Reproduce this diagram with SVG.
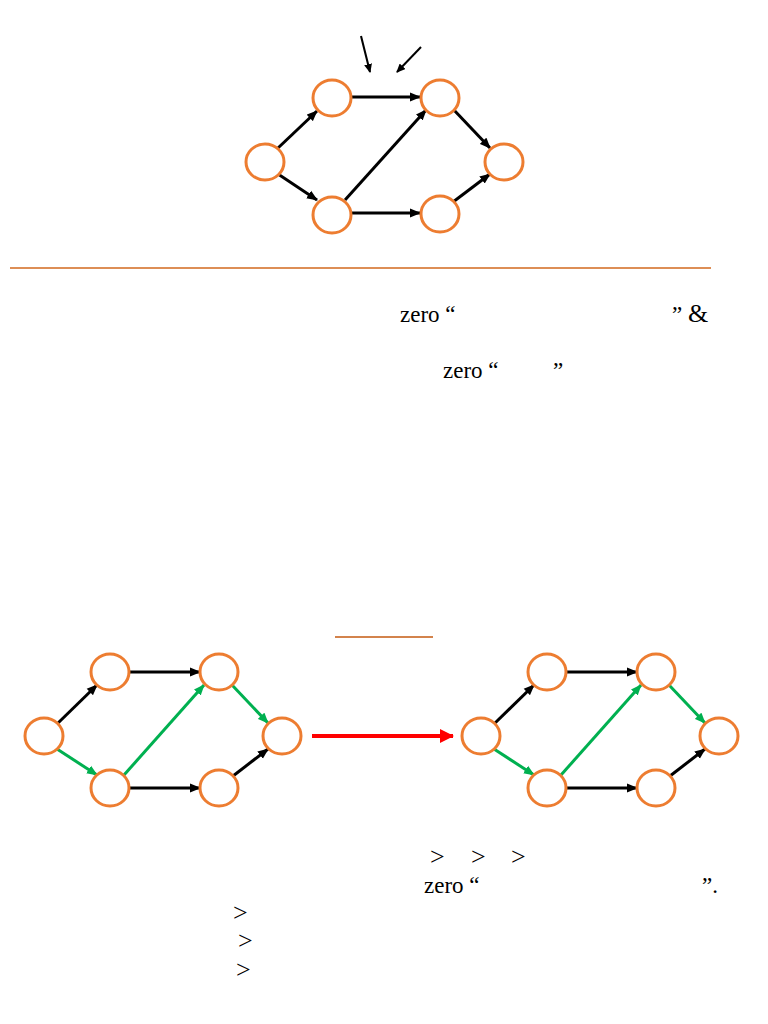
<svg xmlns="http://www.w3.org/2000/svg" width="768" height="1024" viewBox="0 0 768 1024">
<style>
.node{fill:#fff;stroke:#ED7D31;stroke-width:3}
.e{fill:none;stroke:#000;stroke-width:3}
.g{fill:none;stroke:#00B050;stroke-width:3}
.gt{font-size:26px}
</style>
<defs>
<marker id="ab" markerUnits="userSpaceOnUse" markerWidth="11" markerHeight="10" refX="10" refY="5" orient="auto"><path d="M0,0.5 L11,5 L0,9.5 z" fill="#000"/></marker>
<marker id="ag" markerUnits="userSpaceOnUse" markerWidth="11" markerHeight="10" refX="10" refY="5" orient="auto"><path d="M0,0.5 L11,5 L0,9.5 z" fill="#00B050"/></marker>
<marker id="as" markerUnits="userSpaceOnUse" markerWidth="9" markerHeight="8" refX="8" refY="4" orient="auto"><path d="M0,0 L9,4 L0,8 z" fill="#000"/></marker>
<marker id="ar" markerUnits="userSpaceOnUse" markerWidth="14" markerHeight="14" refX="13" refY="7" orient="auto"><path d="M0,0 L14,7 L0,14 z" fill="#FF0000"/></marker>
</defs>
<rect width="768" height="1024" fill="#fff"/>

<g id="connectors">
<line class="e" x1="278" y1="148" x2="317" y2="111" marker-end="url(#ab)"/>
<line class="e" x1="278" y1="174" x2="317" y2="200" marker-end="url(#ab)"/>
<line class="e" x1="351" y1="97" x2="420" y2="97" marker-end="url(#ab)"/>
<line class="e" x1="345" y1="200" x2="426" y2="110" marker-end="url(#ab)"/>
<line class="e" x1="351" y1="213" x2="420" y2="213" marker-end="url(#ab)"/>
<line class="e" x1="453" y1="109" x2="490" y2="148" marker-end="url(#ab)"/>
<line class="e" x1="453" y1="202" x2="490" y2="174" marker-end="url(#ab)"/>
<line x1="361" y1="36" x2="370" y2="72" stroke="#000" stroke-width="2" marker-end="url(#as)"/>
<line x1="421" y1="47" x2="397" y2="72" stroke="#000" stroke-width="2" marker-end="url(#as)"/>
<line class="e" x1="57" y1="724" x2="97" y2="685" marker-end="url(#ab)"/>
<line class="g" x1="57" y1="749" x2="97" y2="775" marker-end="url(#ag)"/>
<line class="e" x1="130" y1="672" x2="200" y2="672" marker-end="url(#ab)"/>
<line class="g" x1="124" y1="775" x2="204" y2="685" marker-end="url(#ag)"/>
<line class="e" x1="130" y1="788" x2="200" y2="788" marker-end="url(#ab)"/>
<line class="g" x1="232" y1="685" x2="268" y2="723" marker-end="url(#ag)"/>
<line class="e" x1="233" y1="776" x2="268" y2="749" marker-end="url(#ab)"/>
<line class="e" x1="494" y1="724" x2="534" y2="685" marker-end="url(#ab)"/>
<line class="g" x1="494" y1="749" x2="534" y2="775" marker-end="url(#ag)"/>
<line class="e" x1="567" y1="672" x2="637" y2="672" marker-end="url(#ab)"/>
<line class="g" x1="561" y1="775" x2="641" y2="685" marker-end="url(#ag)"/>
<line class="e" x1="567" y1="788" x2="637" y2="788" marker-end="url(#ab)"/>
<line class="g" x1="669" y1="685" x2="705" y2="723" marker-end="url(#ag)"/>
<line class="e" x1="670" y1="776" x2="705" y2="749" marker-end="url(#ab)"/>
<line x1="312" y1="736" x2="453" y2="736" stroke="#FF0000" stroke-width="4" marker-end="url(#ar)"/>
</g>

<g id="top-L"><ellipse class="node" cx="265" cy="162" rx="19" ry="18"/></g>
<g id="top-TL"><ellipse class="node" cx="332" cy="98" rx="19" ry="18"/></g>
<g id="top-TR"><ellipse class="node" cx="440" cy="98" rx="19" ry="18"/></g>
<g id="top-R"><ellipse class="node" cx="504" cy="162" rx="19" ry="18"/></g>
<g id="top-BL"><ellipse class="node" cx="332" cy="215" rx="19" ry="18"/></g>
<g id="top-BR"><ellipse class="node" cx="440" cy="214" rx="19" ry="18"/></g>

<g id="bl-L"><ellipse class="node" cx="44" cy="736" rx="19" ry="18"/></g>
<g id="bl-TL"><ellipse class="node" cx="110" cy="672" rx="19" ry="18"/></g>
<g id="bl-TR"><ellipse class="node" cx="219" cy="672" rx="19" ry="18"/></g>
<g id="bl-R"><ellipse class="node" cx="282" cy="736" rx="19" ry="18"/></g>
<g id="bl-BL"><ellipse class="node" cx="110" cy="788" rx="19" ry="18"/></g>
<g id="bl-BR"><ellipse class="node" cx="219" cy="788" rx="19" ry="18"/></g>

<g id="br-L"><ellipse class="node" cx="481" cy="736" rx="19" ry="18"/></g>
<g id="br-TL"><ellipse class="node" cx="547" cy="672" rx="19" ry="18"/></g>
<g id="br-TR"><ellipse class="node" cx="656" cy="672" rx="19" ry="18"/></g>
<g id="br-R"><ellipse class="node" cx="719" cy="736" rx="19" ry="18"/></g>
<g id="br-BL"><ellipse class="node" cx="547" cy="788" rx="19" ry="18"/></g>
<g id="br-BR"><ellipse class="node" cx="656" cy="788" rx="19" ry="18"/></g>

<line x1="10" y1="268" x2="711" y2="268" stroke="#D2691E" stroke-width="1.5"/>
<line x1="335" y1="637" x2="433" y2="637" stroke="#C55A11" stroke-width="1.5"/>

<g id="texts" font-family="Liberation Serif, Times New Roman, serif" font-size="23" fill="#000">
<text x="400" y="322">zero “</text>
<text x="672" y="322">” <tspan font-size="26">&amp;</tspan></text>
<text x="443" y="378">zero “</text>
<text x="553" y="378">”</text>
<text class="gt" x="430" y="865">&gt;</text>
<text class="gt" x="471" y="865">&gt;</text>
<text class="gt" x="511" y="865">&gt;</text>
<text x="424" y="893">zero “</text>
<text x="702" y="893">”.</text>
<text class="gt" x="233" y="921">&gt;</text>
<text class="gt" x="238" y="949">&gt;</text>
<text class="gt" x="236" y="978">&gt;</text>
</g>
</svg>
